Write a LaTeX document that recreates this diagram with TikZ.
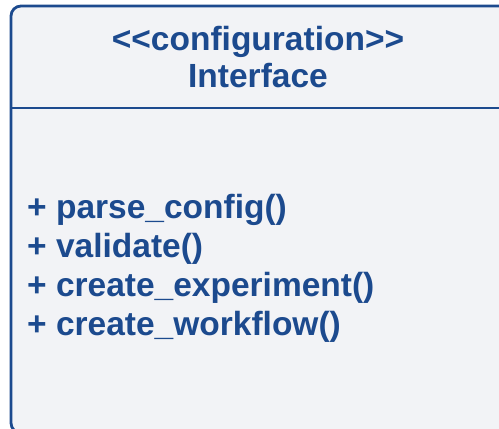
\documentclass[tikz,border=0pt]{standalone}
\usepackage{fontspec}
\setmainfont{Liberation Sans}
\definecolor{umlblue}{HTML}{1C4A8E}
\definecolor{umlfill}{HTML}{F2F3F6}
\tikzset{
  classbox/.style={draw=umlblue, line width=2.8pt, fill=umlfill, rounded corners=10pt},
  umltext/.style={text=umlblue, font=\fontsize{33.5}{37}\selectfont\bfseries, inner sep=0pt},
}
\begin{document}
\begin{tikzpicture}[x=1pt,y=-1pt]
\useasboundingbox (0,0) rectangle (499,429);
\clip (0,0) rectangle (499,429);
\draw[classbox] (11,6) rectangle (520,433);
\coordinate (sepL) at (11,108);
\coordinate (sepR) at (520,108);
\draw[draw=umlblue, line width=2.8pt] (sepL) -- (sepR);
\node[umltext, align=center] (head) at (258,57) {<{}<configuration>{}>\\Interface};
\node[umltext, align=left, anchor=west, font=\fontsize{33.5}{39}\selectfont\bfseries] (ops) at (27,268)
  {+ parse\_config()\\+ validate()\\+ create\_experiment()\\+ create\_workflow()};
\end{tikzpicture}
\end{document}
